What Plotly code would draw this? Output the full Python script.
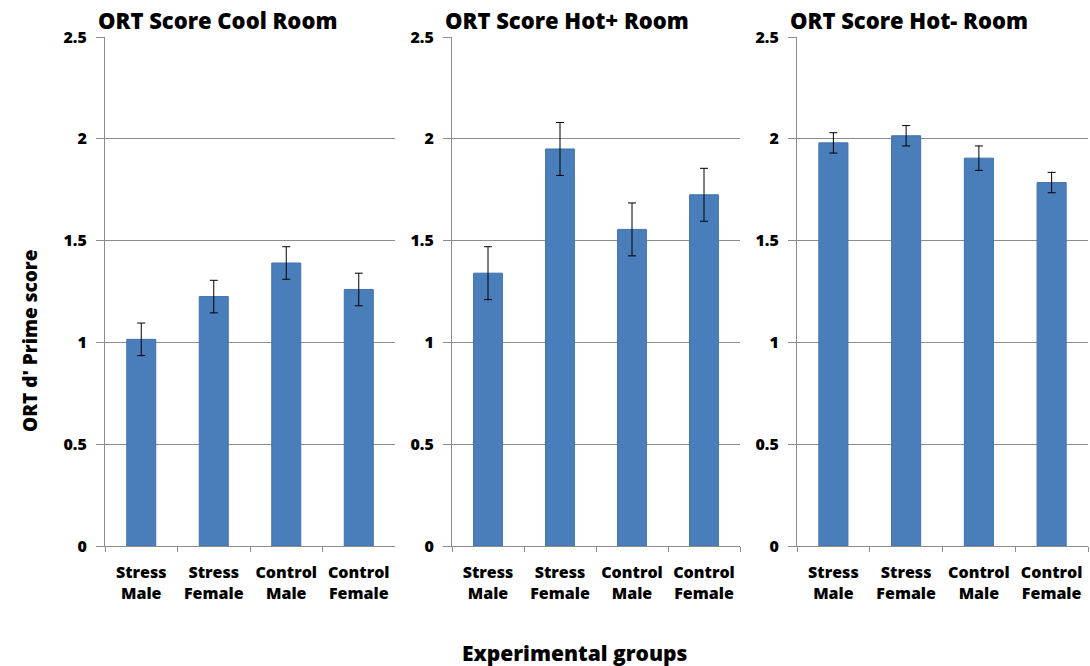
import plotly.graph_objects as go

categories = ["Stress<br>Male", "Stress<br>Female", "Control<br>Male", "Control<br>Female"]
panel_titles = ["ORT Score Cool Room", "ORT Score Hot+ Room", "ORT Score Hot- Room"]
cool_values = [1.015, 1.225, 1.39, 1.26]
cool_errors = [0.08, 0.08, 0.08, 0.08]
hotplus_values = [1.34, 1.95, 1.555, 1.725]
hotplus_errors = [0.13, 0.13, 0.13, 0.13]
hotminus_values = [1.98, 2.015, 1.905, 1.785]
hotminus_errors = [0.05, 0.05, 0.06, 0.05]
y_ticks = [0, 0.5, 1, 1.5, 2, 2.5]
y_tick_labels = ["0", "0.5", "1", "1.5", "2", "2.5"]

W, H = 1090, 666
FONT = "Open Sans"
BAR = "#4A7EBB"
GRID = "#8C8C8C"

x_domains = [(105, 395), (452, 740), (797, 1088)]
y_top, y_bot = 37, 546

fig = go.Figure()
series = [(cool_values, cool_errors), (hotplus_values, hotplus_errors), (hotminus_values, hotminus_errors)]
for i, (vals, errs) in enumerate(series):
    suffix = "" if i == 0 else str(i + 1)
    fig.add_trace(go.Bar(
        x=categories, y=vals,
        xaxis="x" + suffix, yaxis="y" + suffix,
        marker=dict(color=BAR, line=dict(color="#4172AD", width=1)),
        error_y=dict(type="data", array=errs, visible=True, color="black", thickness=1, width=4),
        showlegend=False,
    ))

layout = dict(
    width=W, height=H,
    margin=dict(l=0, r=0, t=0, b=0),
    paper_bgcolor="white", plot_bgcolor="white",
    bargap=0.6,
    font=dict(family=FONT, color="black"),
)
for i, (x0, x1) in enumerate(x_domains):
    suffix = "" if i == 0 else str(i + 1)
    layout["xaxis" + suffix] = dict(
        domain=[x0 / W, x1 / W], anchor="y" + suffix,
        showline=True, linecolor=GRID, linewidth=1,
        ticks="outside", tickson="boundaries", ticklen=5, tickcolor=GRID,
        ticklabelstandoff=12,
        tickfont=dict(family=FONT, size=16, color="black", weight=800),
        showgrid=False, automargin=False, fixedrange=True,
    )
    layout["yaxis" + suffix] = dict(
        domain=[1 - y_bot / H, 1 - y_top / H], anchor="x" + suffix,
        range=[0, 2.5], tickvals=y_ticks, ticktext=y_tick_labels,
        showline=True, linecolor=GRID, linewidth=1,
        ticks="outside", ticklen=8, tickcolor=GRID,
        ticklabelstandoff=6,
        showgrid=True, gridcolor=GRID, gridwidth=1,
        zeroline=False,
        tickfont=dict(family=FONT, size=16, color="black", weight=800),
        automargin=False, fixedrange=True,
    )
layout["annotations"] = [
    dict(text=t, x=(x0 - 9) / W, y=1 - 20 / H, xref="paper", yref="paper",
         xanchor="left", yanchor="middle", showarrow=False,
         font=dict(family=FONT, size=22, color="black", weight=800))
    for t, (x0, x1) in zip(panel_titles, x_domains)
] + [
    dict(text="ORT d' Prime score", x=30 / W, y=1 - 341 / H, xref="paper", yref="paper",
         textangle=-90, showarrow=False, xanchor="center", yanchor="middle",
         font=dict(family=FONT, size=19, color="black", weight=800)),
    dict(text="Experimental groups", x=575 / W, y=1 - 653 / H, xref="paper", yref="paper",
         showarrow=False, xanchor="center", yanchor="middle",
         font=dict(family=FONT, size=21, color="black", weight=800)),
]
fig.update_layout(**layout)
fig.write_html("out.html", config={"displayModeBar": False},
               post_script="document.body.style.margin='0';document.body.style.overflow='hidden';")
